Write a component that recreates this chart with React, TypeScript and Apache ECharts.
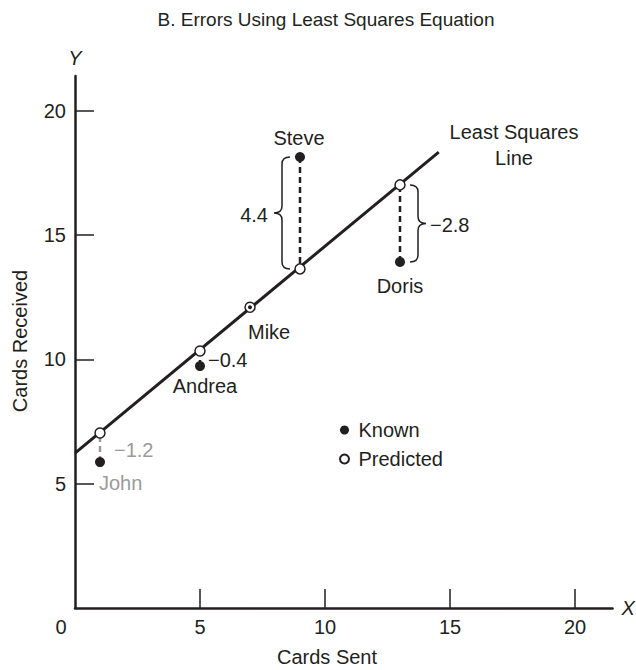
import React, { useEffect, useRef } from "react";
import * as echarts from "echarts";

// ---------- data ----------
const people = ["John", "Andrea", "Mike", "Steve", "Doris"];
const cardsSent = [1, 5, 7, 9, 13];
const cardsKnown = [5.87, 9.73, 12.1, 18.14, 13.92];
const cardsPredicted = [7.04, 10.34, 12.1, 13.64, 17.02];
const errorLabels = ["−1.2", "−0.4", "", "4.4", "−2.8"];
const leastSquaresLine = [
  [0, 6.23],
  [14.55, 18.34],
];
const xTicks = [5, 10, 15, 20];
const xTickLabels = [0, 5, 10, 15, 20];
const yTicks = [5, 10, 15, 20];

// ---------- layout / style (not data) ----------
const FONT = '"Liberation Sans", Arial, Helvetica, sans-serif';
const INK = "#231f20";
const GRAY = "#9a9a9a";
const personColor = [GRAY, INK, INK, INK, INK];
const knownSize = [10, 10, 4, 10, 10];
const nameAlign = ["left", "center", "left", "center", "center"];
const nameOffset = [
  [-1, 21],
  [5, 20],
  [-2, 25],
  [-1, -19],
  [0, 24],
];
const errAlign = ["left", "left", "left", "right", "left"];
const errOffset = [
  [14, 2],
  [8, 1],
  [0, 0],
  [-32, 2],
  [30, 1.5],
];
const braceSide = [0, 0, 0, -1, 1];

export default function App() {
  const ref = useRef<HTMLDivElement>(null);

  useEffect(() => {
    if (!ref.current) return;
    const chart = echarts.init(ref.current, null, { renderer: "svg" });

    const textStyle = { fontFamily: FONT, fontSize: 20, color: INK };

    const option: any = {
      animation: false,
      backgroundColor: "#ffffff",
      textStyle: { fontFamily: FONT },
      grid: {
        left: 75,
        right: 23.5,
        top: 76,
        bottom: 62,
        containLabel: false,
        outerBoundsMode: "none",
      },
      legend: {
        orient: "vertical",
        left: 334,
        top: 415,
        itemWidth: 18,
        itemHeight: 9,
        itemGap: 9,
        data: ["Known", "Predicted"],
        icon: "circle",
        textStyle: { ...textStyle, padding: [0, 0, 0, 0] },
        selectedMode: false,
      },
      xAxis: {
        type: "value",
        min: 0,
        max: 21.5,
        interval: 5,
        name: "X",
        nameLocation: "end",
        nameGap: 9,
        nameTextStyle: { fontFamily: FONT, fontSize: 20, fontStyle: "italic", color: INK },
        axisLine: { show: true, onZero: false, lineStyle: { color: INK, width: 2.5 } },
        axisTick: {
          show: true,
          inside: true,
          length: 19,
          customValues: xTicks,
          lineStyle: { color: INK, width: 1.5 },
        },
        axisLabel: {
          show: true,
          margin: 9,
          customValues: xTickLabels,
          fontFamily: FONT,
          fontSize: 20,
          color: INK,
          formatter: (v: number) => (v === 0 ? "{o|0}" : String(v)),
          rich: {
            o: { fontFamily: FONT, fontSize: 20, color: INK, padding: [0, 28, 0, 0] },
          },
        },
        splitLine: { show: false },
      },
      yAxis: {
        type: "value",
        min: 0,
        max: 21.4,
        interval: 5,
        name: "Y",
        nameLocation: "end",
        nameGap: 8,
        nameTextStyle: { fontFamily: FONT, fontSize: 20, fontStyle: "italic", color: INK },
        axisLine: { show: true, onZero: false, lineStyle: { color: INK, width: 2.5 } },
        axisTick: {
          show: true,
          inside: true,
          length: 19,
          customValues: yTicks,
          lineStyle: { color: INK, width: 1.5 },
        },
        axisLabel: {
          show: true,
          margin: 9,
          customValues: yTicks,
          fontFamily: FONT,
          fontSize: 20,
          color: INK,
        },
        splitLine: { show: false },
      },
      graphic: [
        {
          type: "text",
          x: 326,
          y: 19,
          style: {
            text: "B. Errors Using Least Squares Equation",
            font: `19px ${FONT}`,
            fill: INK,
            align: "center",
            verticalAlign: "middle",
          },
        },
        {
          type: "text",
          x: 514,
          y: 132,
          style: { text: "Least Squares", font: `20px ${FONT}`, fill: INK, align: "center", verticalAlign: "middle" },
        },
        {
          type: "text",
          x: 514,
          y: 158,
          style: { text: "Line", font: `20px ${FONT}`, fill: INK, align: "center", verticalAlign: "middle" },
        },
        {
          type: "text",
          x: 327,
          y: 657,
          style: { text: "Cards Sent", font: `20px ${FONT}`, fill: INK, align: "center", verticalAlign: "middle" },
        },
        {
          type: "text",
          x: 20,
          y: 341,
          rotation: Math.PI / 2,
          style: { text: "Cards Received", font: `20px ${FONT}`, fill: INK, align: "center", verticalAlign: "middle" },
        },
      ],
      series: [
        {
          name: "Least Squares Line",
          type: "line",
          data: leastSquaresLine,
          symbol: "none",
          lineStyle: { color: INK, width: 3, opacity: 1 },
          z: 2,
          silent: true,
        },
        {
          name: "errors",
          type: "custom",
          z: 3,
          silent: true,
          data: cardsSent.map((x, i) => [x, cardsKnown[i], cardsPredicted[i], i]),
          renderItem: (_params: any, api: any) => {
            const i = api.value(3);
            const x = api.value(0);
            const a = api.coord([x, api.value(1)]);
            const b = api.coord([x, api.value(2)]);
            const color = personColor[i];
            const children: any[] = [];
            if (Math.abs(a[1] - b[1]) > 1) {
              children.push({
                type: "line",
                shape: { x1: a[0], y1: a[1], x2: b[0], y2: b[1] },
                style: { stroke: color, lineWidth: 2.5, lineDash: [6, 4] },
              });
            }
            const side = braceSide[i];
            if (side) {
              const top = Math.min(a[1], b[1]);
              const bot = Math.max(a[1], b[1]);
              const mid = (top + bot) / 2;
              const x0 = a[0] + side * 10;
              const x1 = a[0] + side * 18;
              const x2 = a[0] + side * 26;
              const r = 7;
              const d =
                `M${x0} ${top} Q${x1} ${top} ${x1} ${top + r} L${x1} ${mid - r} ` +
                `Q${x1} ${mid} ${x2} ${mid} Q${x1} ${mid} ${x1} ${mid + r} ` +
                `L${x1} ${bot - r} Q${x1} ${bot} ${x0} ${bot}`;
              children.push({
                type: "path",
                shape: { pathData: d },
                style: { fill: "none", stroke: INK, lineWidth: 1.5 },
              });
            }
            if (errorLabels[i]) {
              children.push({
                type: "text",
                x: a[0] + errOffset[i][0],
                y: (a[1] + b[1]) / 2 + errOffset[i][1],
                style: {
                  text: errorLabels[i],
                  fill: color,
                  font: `20px ${FONT}`,
                  align: errAlign[i],
                  verticalAlign: "middle",
                },
              });
            }
            return { type: "group", children };
          },
        },
        {
          name: "Predicted",
          type: "scatter",
          z: 4,
          symbol: "circle",
          symbolSize: 10,
          itemStyle: { color: "#ffffff", borderColor: INK, borderWidth: 1.5, opacity: 1 },
          data: cardsSent.map((x, i) => [x, cardsPredicted[i]]),
          silent: true,
        },
        {
          name: "Known",
          type: "scatter",
          z: 5,
          symbol: "circle",
          itemStyle: { color: INK, opacity: 1 },
          data: cardsSent.map((x, i) => ({
            value: [x, cardsKnown[i]],
            symbolSize: knownSize[i],
            label: {
              show: true,
              formatter: people[i],
              position: "inside",
              align: nameAlign[i],
              verticalAlign: "middle",
              offset: nameOffset[i],
              color: personColor[i],
              opacity: 1,
              fontFamily: FONT,
              fontSize: 20,
            },
          })),
          silent: true,
        },
      ],
    };

    chart.setOption(option);
    return () => chart.dispose();
  }, []);

  return (
    <div
      ref={ref}
      style={{ position: "fixed", left: 0, top: 0, width: 636, height: 670, background: "#fff" }}
    />
  );
}
